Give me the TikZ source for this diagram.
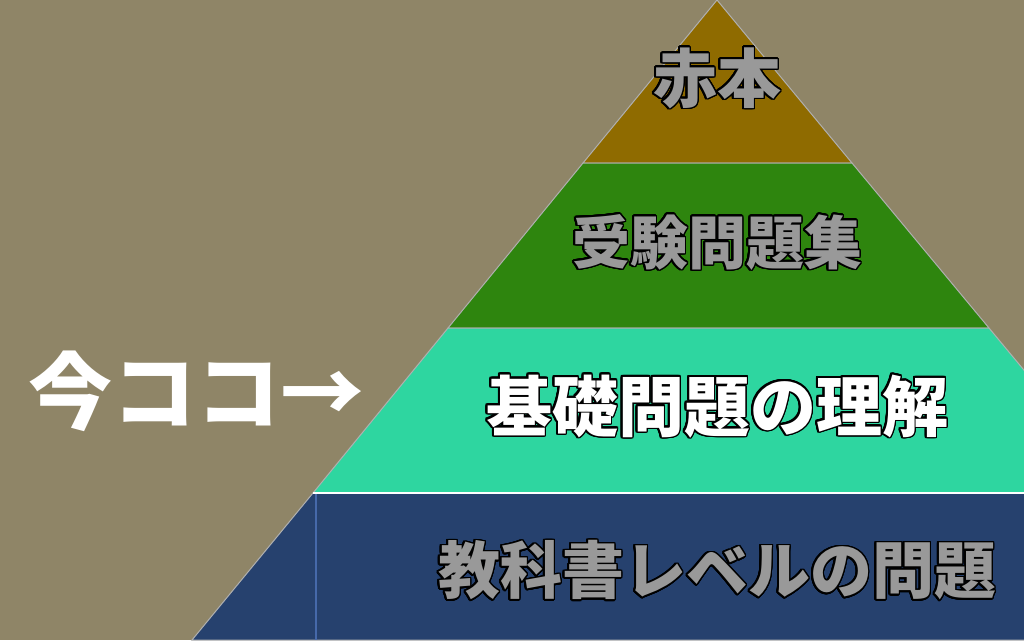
\documentclass[tikz,border=0pt]{standalone}
\usepackage{fontspec}
\usepackage{contour}
\newfontfamily\jp{Noto Sans CJK JP}
\contournumber{24}
\contourlength{1.6pt}
\definecolor{bgcol}{RGB}{143,133,103}
\definecolor{akahoncol}{RGB}{143,107,0}
\definecolor{jukencol}{RGB}{46,133,14}
\definecolor{kisocol}{RGB}{46,214,160}
\definecolor{kyokacol}{RGB}{38,65,110}
\definecolor{edgecol}{RGB}{176,176,176}
\definecolor{txtgray}{RGB}{153,153,153}
\definecolor{seamcol}{RGB}{70,105,170}
\tikzstyle{every node}+=[inner sep=0pt]
\tikzstyle{layer}=[draw=edgecol,line width=1pt]
\tikzstyle{title}=[font=\jp\bfseries\fontsize{64}{64}\selectfont]
\newcommand\graytext[1]{{\color{txtgray}\contour{black}{#1}}}
\newcommand\whitetext[1]{{\color{white}\contour{black}{#1}}}
\usetikzlibrary{positioning}

\begin{document}
\begin{tikzpicture}[x=1pt,y=-1pt]

\fill[bgcol] (0,0) rectangle (1024,640);
\useasboundingbox (0,0) rectangle (1024,640);

\begin{scope}
\clip (0,0) rectangle (1024,640);
\filldraw[layer,fill=akahoncol] (717,0) -- (583,163) -- (852,163) -- cycle;
\filldraw[layer,fill=jukencol] (583,163) -- (448,328) -- (989,328) -- (852,163) -- cycle;
\filldraw[layer,fill=kisocol] (448,328) -- (313,493) -- (1126,493) -- (989,328) -- cycle;
\filldraw[layer,fill=kyokacol] (313,493) -- (192,640) -- (1248,640) -- (1126,493) -- cycle;
\draw[seamcol,line width=1.2pt] (316,493) -- (316,640);
\draw[white,line width=1.2pt] (313,493) -- (1024,493);
\end{scope}

\node[title] (akahon) at (717,79) {\graytext{赤本}};
\node[title,font=\jp\bfseries\fontsize{58}{58}\selectfont] (juken) at (717,243) {\graytext{受験問題集}};
\node[title,font=\jp\bfseries\fontsize{66}{66}\selectfont] (kiso) at (717,407) {\whitetext{基礎問題の理解}};
\node[title,font=\jp\bfseries\fontsize{62}{62}\selectfont] (kyokasho) at (717,571) {\graytext{教科書レベルの問題}};
\node[title,font=\jp\bfseries\fontsize{84}{84}\selectfont,text=white] (ima) at (196,391) {今ココ→};

\end{tikzpicture}
\end{document}
